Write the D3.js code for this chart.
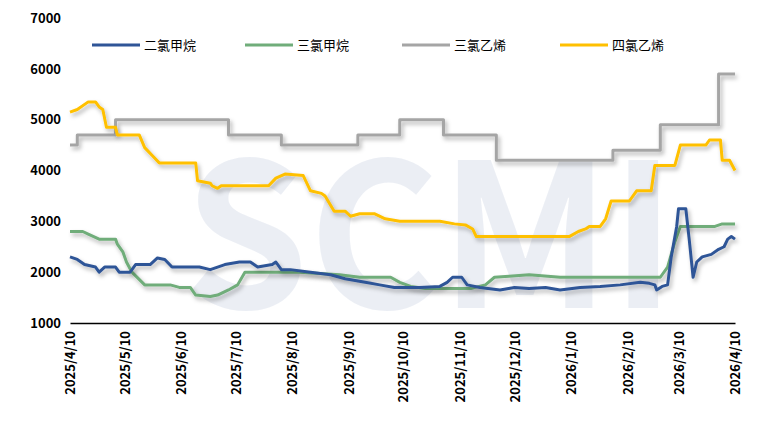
<!DOCTYPE html>
<html><head><meta charset="utf-8">
<script src="https://cdn.jsdelivr.net/npm/d3@7"></script>
<style>body{margin:0;background:#fff}text{font-family:"Noto Sans CJK SC","Noto Sans",sans-serif}</style>
</head><body><svg id="c" width="765" height="434"></svg>
<script>
// day offsets from 2025/4/10, values in yuan/ton
var seriesNames = ["二氯甲烷", "三氯甲烷", "三氯乙烯", "四氯乙烯"];
var colors = ["#2f5597", "#70ad7a", "#a5a5a5", "#ffc000"];
var blueDays = [0,4,8,14,16,19,25,27,33,36,44,48,52,56,71,77,85,93,99,103,111,113,116,121,132,143,151,162,170,178,192,203,207,210,215,218,225,236,244,252,261,269,280,291,302,313,318,321,322,325,328,330,333,334,338,340,342,344,347,352,356,359,361,363,365];
var blueVals = [2300,2250,2150,2100,2000,2100,2100,2000,2000,2150,2150,2280,2250,2100,2100,2050,2150,2200,2200,2100,2150,2200,2050,2050,2000,1950,1870,1800,1750,1700,1700,1720,1800,1900,1900,1750,1700,1650,1700,1680,1700,1650,1700,1720,1750,1800,1780,1750,1650,1720,1750,2300,2900,3250,3250,2600,1900,2200,2300,2350,2450,2500,2650,2700,2650];
var greenDays = [0,7,10,16,25,26,29,31,34,41,55,60,66,69,77,81,87,92,96,113,126,148,159,176,181,187,195,220,228,233,241,252,269,324,328,332,335,354,358,365];
var greenVals = [2800,2800,2750,2650,2650,2550,2400,2200,2000,1750,1750,1700,1700,1550,1520,1550,1650,1750,2000,2000,2000,1950,1900,1900,1800,1720,1680,1680,1750,1900,1920,1950,1900,1900,2100,2600,2900,2900,2950,2950];
var grayDays = [0,4,25,87,116,158,181,205,234,298,324,356,365];
var grayVals = [4500,4700,5000,4700,4500,4700,5000,4700,4200,4400,4900,5900,5900];
var yellowDays = [0,4,10,14,16,18,20,25,26,38,41,45,49,69,70,77,78,81,83,109,113,118,128,132,138,140,145,151,154,159,167,173,181,203,211,217,221,223,274,279,283,285,291,294,297,307,311,319,321,332,335,349,351,357,358,362,365];
var yellowVals = [5150,5200,5350,5350,5250,5200,4850,4850,4700,4700,4450,4300,4150,4150,3800,3750,3700,3650,3700,3700,3850,3930,3900,3600,3550,3500,3200,3200,3100,3150,3150,3050,3000,3000,2950,2930,2850,2700,2700,2800,2850,2900,2900,3050,3400,3400,3600,3600,4100,4100,4500,4500,4600,4600,4200,4200,4000];
var yTicks = [1000,2000,3000,4000,5000,6000,7000];
var xTickLabels = ["2025/4/10","2025/5/10","2025/6/10","2025/7/10","2025/8/10","2025/9/10","2025/10/10","2025/11/10","2025/12/10","2026/1/10","2026/2/10","2026/3/10","2026/4/10"];

var svg = d3.select("#c");
var start = new Date(2025,3,10);
var x = d3.scaleTime().domain([start, new Date(2026,3,10)]).range([70, 735]);
var y = d3.scaleLinear().domain([1000,7000]).range([323, 18]);

var defs = svg.append("defs");
var f = defs.append("filter").attr("id","sh").attr("x","-5%").attr("y","-20%").attr("width","110%").attr("height","140%");
f.append("feDropShadow").attr("dx",2).attr("dy",3).attr("stdDeviation",2).attr("flood-color","#000").attr("flood-opacity",0.3);

// faint watermark
var wm = svg.append("g").attr("opacity",0.6);
wm.append("text").attr("x",430).attr("y",308).attr("text-anchor","middle")
  .style("font-size","200px").style("font-weight","bold").attr("fill","#dfe4ee").text("SCMI");

svg.append("g").attr("transform","translate(64,0)")
  .call(d3.axisLeft(y).tickValues(yTicks).tickSize(0).tickFormat(d3.format("d")))
  .call(g => g.select(".domain").remove())
  .selectAll("text").style("font-size","13px").style("font-weight","bold").attr("fill","#000");

var tickDates = xTickLabels.map(function(s){var p=s.split("/");return new Date(+p[0],+p[1]-1,+p[2]);});
var xa = svg.append("g").attr("transform","translate(0,323)")
  .call(d3.axisBottom(x).tickValues(tickDates).tickSize(0).tickFormat(function(d,i){return xTickLabels[i];}));
xa.select(".domain").attr("stroke","#000").attr("stroke-width",1.5);
xa.selectAll("text").attr("transform","rotate(-90)").attr("x",-8).attr("y",0).attr("dy","0.35em")
  .attr("text-anchor","end").style("font-size","13px").style("font-weight","bold").attr("fill","#000");

var data = [[blueDays,blueVals],[greenDays,greenVals],[grayDays,grayVals],[yellowDays,yellowVals]];
var order = [2,3,1,0];
order.forEach(function(i){
  var pts = data[i][0].map(function(d,k){return [d3.timeDay.offset(start,d), data[i][1][k]];});
  var line = d3.line().x(function(p){return x(p[0]);}).y(function(p){return y(p[1]);})
    .curve(i===2 ? d3.curveStepAfter : d3.curveLinear);
  svg.append("path").datum(pts).attr("d",line).attr("fill","none").attr("stroke",colors[i])
    .attr("stroke-width",3).attr("stroke-linejoin","round").attr("filter","url(#sh)");
});

var legX = [92,245,402,560];
seriesNames.forEach(function(n,i){
  svg.append("line").attr("x1",legX[i]).attr("x2",legX[i]+48).attr("y1",45).attr("y2",45)
    .attr("stroke",colors[i]).attr("stroke-width",3);
  svg.append("text").attr("x",legX[i]+52).attr("y",50).style("font-size","13px").attr("fill","#000").text(n);
});
</script></body></html>
